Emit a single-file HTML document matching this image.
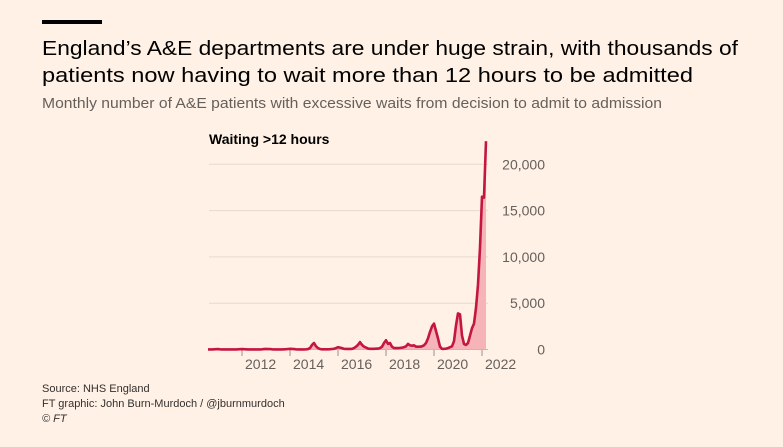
<!DOCTYPE html>
<html><head><meta charset="utf-8"><style>
html,body{margin:0;padding:0;background:#fff1e5;}
svg{display:block;font-family:"Liberation Sans",sans-serif;}
</style></head><body>
<svg id="chart" width="783" height="447" viewBox="0 0 783 447">
<rect x="0" y="0" width="783" height="447" fill="#fff1e5"/>
<rect x="42" y="20" width="60" height="4" fill="#000"/>
<text x="42" y="55" font-size="20.5" fill="#000" textLength="696" lengthAdjust="spacingAndGlyphs">England’s A&amp;E departments are under huge strain, with thousands of</text>
<text x="42" y="82" font-size="20.5" fill="#000" textLength="651" lengthAdjust="spacingAndGlyphs">patients now having to wait more than 12 hours to be admitted</text>
<text x="42" y="108" font-size="15" fill="#66605c" textLength="620" lengthAdjust="spacingAndGlyphs">Monthly number of A&amp;E patients with excessive waits from decision to admit to admission</text>
<text x="209" y="144" font-size="14" font-weight="bold" fill="#000">Waiting &gt;12 hours</text>
<g id="grid"></g><g id="yticks"></g><g id="xticks"></g><g id="series"></g>
<text x="42" y="392" font-size="11" fill="#33302e">Source: NHS England</text>
<text x="42" y="407" font-size="11" fill="#33302e">FT graphic: John Burn-Murdoch / @jburnmurdoch</text>
<text x="42" y="422" font-size="11" font-style="italic" fill="#33302e">© FT</text>
</svg>
<script>
const startYear = 2010;
const startMonth = 8;
const values = [
10,10,15,20,30,
40,20,15,10,10,10,10,10,10,15,20,30,
40,30,20,15,10,10,10,10,10,15,20,40,
60,40,50,20,10,10,10,10,10,20,30,50,
80,60,40,20,10,10,10,10,20,40,150,500,
700,350,150,50,20,20,20,20,30,50,80,150,
250,200,150,80,60,60,60,80,150,300,500,800,
500,300,200,100,80,80,80,90,100,150,300,700,
1000,600,700,300,150,150,150,170,200,250,350,600,
450,400,450,300,300,300,350,450,700,1200,1900,2500,
2800,2000,1200,300,80,60,100,150,250,350,900,2600,
3900,3800,1500,600,500,700,1500,2300,2800,4500,7000,11000,
16500,16400,22500
];
const yTicks = [0,5000,10000,15000,20000];
const yTickLabels = ["0","5,000","10,000","15,000","20,000"];
const xTicks = [2012,2014,2016,2018,2020,2022];
const xTickLabels = ["2012","2014","2016","2018","2020","2022"];

const NS="http://www.w3.org/2000/svg";
function xScale(t){return 482 + (t-2022)*24;}
function yScale(v){return 349.5 - v*(185.2/20000);}
function mk(tag,attrs,parent){const e=document.createElementNS(NS,tag);for(const k in attrs)e.setAttribute(k,attrs[k]);parent.appendChild(e);return e;}
const grid=document.getElementById('grid'),yt=document.getElementById('yticks'),xt=document.getElementById('xticks'),ser=document.getElementById('series');
yTicks.forEach((v,i)=>{
  if(v>0){const l=mk('line',{x1:209,x2:488,y1:yScale(v),y2:yScale(v),stroke:'#e6d9ce','stroke-width':1},grid);
  
  }
  const t=mk('text',{x:545,y:yScale(v)+5,'font-size':14,fill:'#66605c','text-anchor':'end'},yt);
  t.textContent=yTickLabels[i];
  
  
});
xTicks.forEach((y,i)=>{
  const x=xScale(y);
  const l=mk('line',{x1:x,x2:x,y1:350,y2:356,stroke:'#99908a','stroke-width':1},xt);
  
  
  const t=mk('text',{x:x+3,y:369,'font-size':14,fill:'#66605c'},xt);
  t.textContent=xTickLabels[i];
  
  
});
const pts=values.map((v,i)=>{const t=startYear+(startMonth-1+i)/12;return [xScale(t),yScale(v)];});
const d='M'+pts.map(p=>p[0].toFixed(1)+','+p[1].toFixed(1)).join('L');
const area=mk('path',{d:d+'L'+pts[pts.length-1][0].toFixed(1)+','+yScale(0)+'L'+pts[0][0].toFixed(1)+','+yScale(0)+'Z',fill:'#f6b3b8'},ser);


const base=mk('line',{x1:209,x2:488,y1:yScale(0),y2:yScale(0),stroke:'#c8b8aa','stroke-width':1},ser);


const line=mk('path',{d:d,fill:'none',stroke:'#c4163f','stroke-width':2.6,'stroke-linejoin':'round'},ser);


</script>
</body></html>
